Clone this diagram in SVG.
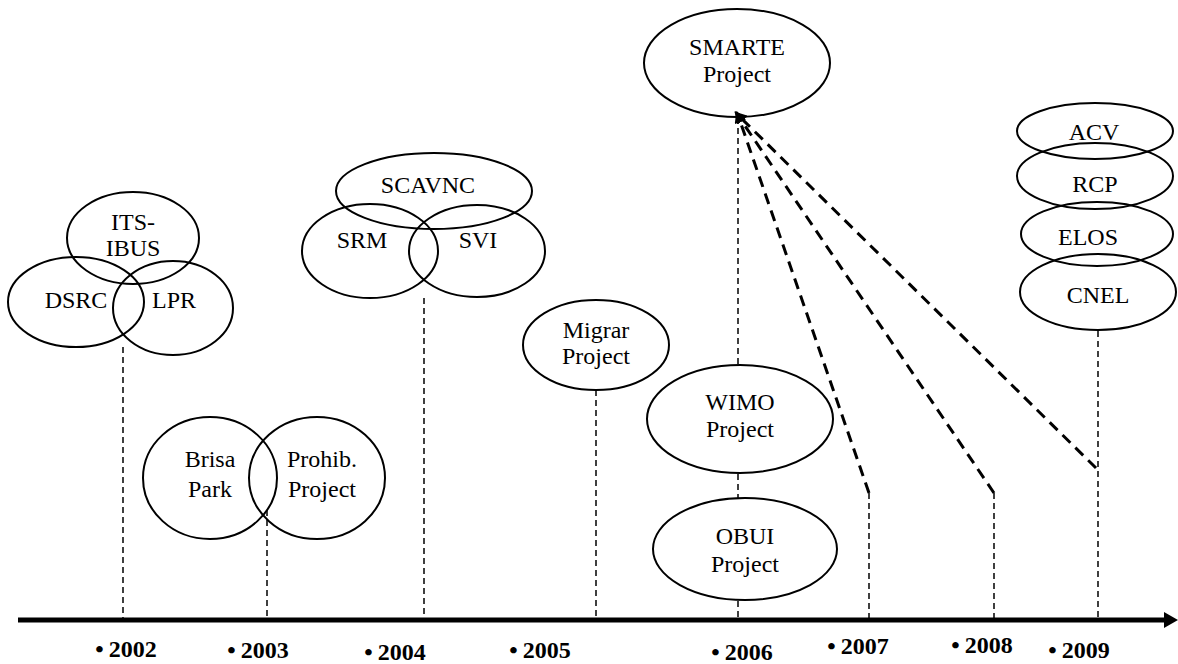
<svg xmlns="http://www.w3.org/2000/svg" width="1178" height="664" viewBox="0 0 1178 664">
<style>
.n{fill:none;stroke:#000;stroke-width:2}
.t{font-family:'Liberation Serif',Tinos,'Times New Roman','DejaVu Serif',serif;font-size:24px;fill:#000;text-anchor:middle}
.y{font-family:'Liberation Serif',Tinos,'Times New Roman','DejaVu Serif',serif;font-size:24px;font-weight:bold;fill:#000;text-anchor:middle}
.v{fill:none;stroke:#000;stroke-width:1.5;stroke-dasharray:6 4}
.d{fill:none;stroke:#000;stroke-width:3;stroke-dasharray:11 7}
</style>
<defs>
<marker id="ah" viewBox="0 0 10 10" refX="1" refY="5" markerWidth="4" markerHeight="4" orient="auto-start-reverse" markerUnits="strokeWidth">
<path d="M0,0 L10,5 L0,10 z" fill="#000"/>
</marker>
</defs>
<g id="connectors">
<line class="v" x1="123" y1="347" x2="123" y2="618"/>
<line class="v" x1="267" y1="510" x2="267" y2="618"/>
<line class="v" x1="424" y1="298" x2="424" y2="618"/>
<line class="v" x1="596" y1="390" x2="596" y2="618"/>
<line class="v" x1="738" y1="118" x2="738" y2="364"/>
<line class="v" x1="738" y1="474" x2="738" y2="498"/>
<line class="v" x1="738" y1="601" x2="738" y2="618"/>
<line class="v" x1="869" y1="493" x2="869" y2="618"/>
<line class="v" x1="994" y1="493" x2="994" y2="618"/>
<line class="v" x1="1098" y1="331" x2="1098" y2="618"/>
<path class="d" d="M869,493 L740,121" marker-end="url(#ah)"/>
<path class="d" d="M994,493 L741,120" marker-end="url(#ah)"/>
<path class="d" d="M1096,468 L742,119" marker-end="url(#ah)"/>
<line x1="18" y1="620" x2="1166" y2="620" stroke="#000" stroke-width="5"/>
<polygon points="1164,612 1178,620 1164,628" fill="#000"/>
</g>
<g id="its-ibus"><ellipse class="n" cx="133" cy="238" rx="66" ry="46"/><text class="t" x="133" y="230">ITS-</text><text class="t" x="133" y="256">IBUS</text></g>
<g id="dsrc"><ellipse class="n" cx="76" cy="302" rx="68" ry="45"/><text class="t" x="76" y="308">DSRC</text></g>
<g id="lpr"><ellipse class="n" cx="173" cy="308" rx="60" ry="47"/><text class="t" x="174" y="308">LPR</text></g>
<g id="brisa"><ellipse class="n" cx="210" cy="478" rx="67" ry="61"/><text class="t" x="210" y="467">Brisa</text><text class="t" x="210" y="497">Park</text></g>
<g id="prohib"><ellipse class="n" cx="317" cy="478" rx="68" ry="61"/><text class="t" x="322" y="467">Prohib.</text><text class="t" x="322" y="497">Project</text></g>
<g id="scavnc"><ellipse class="n" cx="434" cy="191" rx="98" ry="38"/><text class="t" x="428" y="193">SCAVNC</text></g>
<g id="srm"><ellipse class="n" cx="370" cy="251" rx="68" ry="47"/><text class="t" x="362" y="248">SRM</text></g>
<g id="svi"><ellipse class="n" cx="477" cy="251" rx="68" ry="46"/><text class="t" x="478" y="248">SVI</text></g>
<g id="migrar"><ellipse class="n" cx="596" cy="345" rx="73" ry="45"/><text class="t" x="596" y="338">Migrar</text><text class="t" x="596" y="364">Project</text></g>
<g id="smarte"><ellipse class="n" cx="737" cy="63" rx="93" ry="54"/><text class="t" x="737" y="55">SMARTE</text><text class="t" x="737" y="82">Project</text></g>
<g id="wimo"><ellipse class="n" cx="740" cy="419" rx="93" ry="54"/><text class="t" x="740" y="410">WIMO</text><text class="t" x="740" y="437">Project</text></g>
<g id="obui"><ellipse class="n" cx="745" cy="549" rx="92" ry="51"/><text class="t" x="745" y="544">OBUI</text><text class="t" x="745" y="572">Project</text></g>
<g id="acv"><ellipse class="n" cx="1095" cy="131" rx="78" ry="28"/><text class="t" x="1094" y="140">ACV</text></g>
<g id="rcp"><ellipse class="n" cx="1095" cy="176" rx="78" ry="33"/><text class="t" x="1095" y="192">RCP</text></g>
<g id="elos"><ellipse class="n" cx="1097" cy="234" rx="76" ry="32"/><text class="t" x="1088" y="245">ELOS</text></g>
<g id="cnel"><ellipse class="n" cx="1098" cy="292" rx="78" ry="38"/><text class="t" x="1098" y="303">CNEL</text></g>
<g id="years">
<text class="y" x="126" y="657">•<tspan dx="5">2002</tspan></text>
<text class="y" x="258" y="658">•<tspan dx="5">2003</tspan></text>
<text class="y" x="395" y="660">•<tspan dx="5">2004</tspan></text>
<text class="y" x="540" y="658">•<tspan dx="5">2005</tspan></text>
<text class="y" x="742" y="660">•<tspan dx="5">2006</tspan></text>
<text class="y" x="858" y="654">•<tspan dx="5">2007</tspan></text>
<text class="y" x="982" y="653">•<tspan dx="5">2008</tspan></text>
<text class="y" x="1079" y="658">•<tspan dx="5">2009</tspan></text>
</g>
</svg>
